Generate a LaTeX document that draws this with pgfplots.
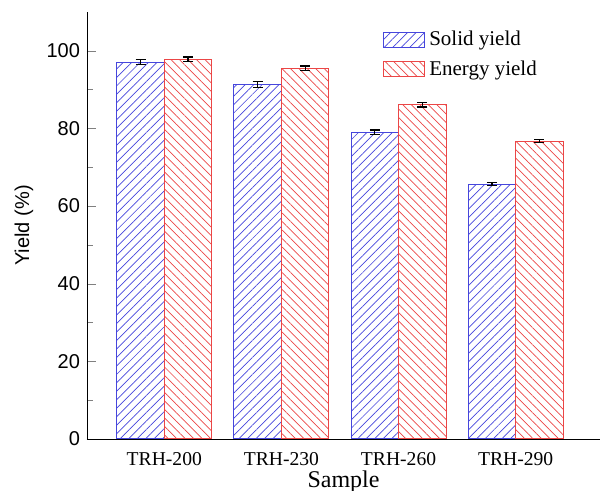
\documentclass[border=0pt]{standalone}
\usepackage{fontspec}
\setmainfont{Liberation Serif}
\setsansfont{Liberation Sans}
\usepackage{pgfplots}
\pgfplotsset{compat=1.18}
\usetikzlibrary{patterns.meta}

\definecolor{bluebar}{RGB}{70,70,220}
\definecolor{redbar}{RGB}{235,70,70}

\begin{document}
\begin{tikzpicture}
\begin{axis}[
    name=ax,
    scale only axis,
    width=256.5pt, height=213.5pt,
    ybar=0pt, bar width=23.75pt,
    xmin=-0.66, xmax=3.72,
    ymin=0, ymax=110,
    axis x line*=bottom, axis y line*=left,
    xtick=data,
    xticklabels={TRH-200,TRH-230,TRH-260,TRH-290},
    x tick style={draw=none},
    x tick label style={font=\fontsize{9.8}{11}\selectfont, yshift=-3pt},
    ytick={0,20,40,60,80,100},
    minor y tick num=1,
    tick align=inside,
    y tick label style={font=\sffamily\fontsize{10}{12}\selectfont},
    /pgf/number format/assume math mode=true,
    xlabel={Sample},
    xlabel style={font=\fontsize{12}{14}\selectfont, at={(axis description cs:0.5,-0.1)}, anchor=center},
    ylabel={Yield (\%)},
    ylabel style={font=\sffamily\fontsize{10}{12}\selectfont, at={(axis description cs:-0.123,0.5)}, anchor=center},
    legend style={at={(axis description cs:0.565,0.975)}, anchor=north west, draw=none, fill=none,
        font=\fontsize{10.5}{12}\selectfont, row sep=2pt},
    legend cell align=left,
    legend image code/.code={\draw[#1] (0pt,-3.75pt) rectangle (20.5pt,3.75pt);},
    error bars/y dir=both, error bars/y explicit,
    error bars/error bar style={black, line width=0.6pt},
    error bars/error mark options={rotate=90, mark size=2.5pt, black, line width=0.6pt},
]
\addplot[draw=bluebar, line width=0.5pt, pattern={Lines[angle=45,distance=3pt,line width=0.35pt]}, pattern color=bluebar]
coordinates {
    (0, 97.1) +- (0, 0.6)
    (1, 91.3) +- (0, 0.7)
    (2, 79.0) +- (0, 0.6)
    (3, 65.6) +- (0, 0.4)
};
\addlegendentry{Solid yield}
\addplot[draw=redbar, line width=0.5pt, pattern={Lines[angle=-45,distance=3pt,line width=0.35pt]}, pattern color=redbar]
coordinates {
    (0, 97.8) +- (0, 0.6)
    (1, 95.5) +- (0, 0.6)
    (2, 86.1) +- (0, 0.6)
    (3, 76.7) +- (0, 0.4)
};
\addlegendentry{Energy yield}
\end{axis}
\pgfresetboundingbox
\path[use as bounding box] ([xshift=-43.5pt,yshift=-26pt]ax.south west) rectangle ([xshift=2pt,yshift=6pt]ax.north east);
\end{tikzpicture}
\end{document}
